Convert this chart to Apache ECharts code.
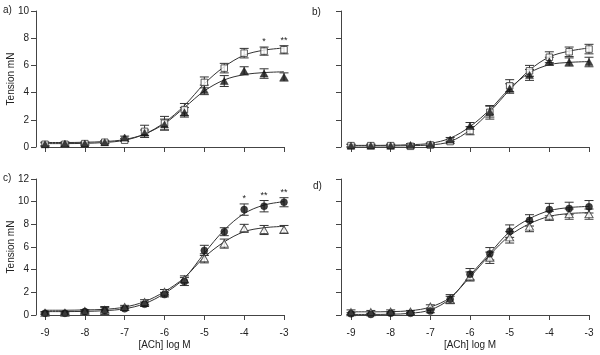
<!DOCTYPE html>
<html>
<head>
<meta charset="utf-8">
<script src="https://cdn.jsdelivr.net/npm/echarts@6/dist/echarts.min.js"></script>
<style>
  html, body { margin: 0; padding: 0; background: #fff; }
  #chart { width: 600px; height: 355px; }
</style>
</head>
<body>
<div id="chart"></div>
<script>
// log [ACh] doses, shared by every panel
const doses = [-9, -8.5, -8, -7.5, -7, -6.5, -6, -5.5, -5, -4.5, -4, -3.5, -3];
const xTicks = [-9, -8, -7, -6, -5, -4, -3];

// panel a
const aSquare = [0.2, 0.2, 0.25, 0.35, 0.5, 1.15, 1.75, 2.75, 4.75, 5.8, 6.9, 7.05, 7.15];
const aSquareSem = [0.15, 0.15, 0.1, 0.1, 0.1, 0.45, 0.5, 0.45, 0.4, 0.35, 0.35, 0.3, 0.3];
const aTri = [0.2, 0.25, 0.25, 0.35, 0.7, 1.05, 1.65, 2.55, 4.2, 4.85, 5.6, 5.4, 5.15];
const aTriSem = [0.1, 0.1, 0.1, 0.1, 0.1, 0.2, 0.4, 0.35, 0.35, 0.4, 0.3, 0.35, 0.3];
const aSquareFit = [0.25, 0.25, 0.27, 0.33, 0.5, 0.95, 1.8, 3.05, 4.65, 5.9, 6.75, 7.12, 7.28];
const aTriFit = [0.33, 0.33, 0.35, 0.4, 0.55, 0.95, 1.72, 2.9, 4.12, 4.93, 5.32, 5.47, 5.53];
const aStars = [[-3.5, "*"], [-3, "**"]];

// panel b
const bSquare = [0.1, 0.1, 0.1, 0.05, 0.15, 0.4, 1.2, 2.55, 4.5, 5.6, 6.6, 7.0, 7.2];
const bSquareSem = [0.1, 0.1, 0.1, 0.05, 0.1, 0.15, 0.3, 0.5, 0.45, 0.4, 0.4, 0.35, 0.35];
const bTri = [0.1, 0.1, 0.1, 0.15, 0.2, 0.55, 1.55, 2.6, 4.3, 5.3, 6.3, 6.25, 6.25];
const bTriSem = [0.1, 0.1, 0.1, 0.1, 0.1, 0.15, 0.25, 0.4, 0.35, 0.4, 0.3, 0.3, 0.35];
const bSquareFit = [0.08, 0.08, 0.08, 0.1, 0.15, 0.4, 1.25, 2.6, 4.2, 5.65, 6.62, 7.05, 7.28];
const bTriFit = [0.12, 0.12, 0.13, 0.17, 0.27, 0.65, 1.5, 2.75, 4.3, 5.45, 6.05, 6.22, 6.28];

// panel c
const cCircle = [0.15, 0.15, 0.3, 0.4, 0.55, 0.95, 1.8, 2.95, 5.7, 7.35, 9.3, 9.6, 9.95];
const cCircleSem = [0.1, 0.1, 0.15, 0.35, 0.15, 0.2, 0.2, 0.35, 0.45, 0.35, 0.5, 0.5, 0.4];
const cTri = [0.2, 0.2, 0.35, 0.45, 0.7, 1.15, 2.05, 3.15, 5.0, 6.3, 7.65, 7.5, 7.55];
const cTriSem = [0.1, 0.1, 0.1, 0.2, 0.15, 0.2, 0.2, 0.3, 0.4, 0.4, 0.35, 0.4, 0.35];
const cCircleFit = [0.3, 0.3, 0.32, 0.38, 0.55, 1.0, 1.9, 3.25, 5.45, 7.5, 8.95, 9.7, 10.0];
const cTriFit = [0.42, 0.42, 0.45, 0.5, 0.7, 1.18, 2.06, 3.3, 5.1, 6.45, 7.35, 7.7, 7.82];
const cStars = [[-4, "*"], [-3.5, "**"], [-3, "**"]];

// panel d
const dCircle = [0.1, 0.05, 0.15, 0.15, 0.35, 1.4, 3.6, 5.4, 7.4, 8.35, 9.3, 9.4, 9.55];
const dCircleSem = [0.1, 0.1, 0.1, 0.1, 0.15, 0.4, 0.5, 0.55, 0.55, 0.5, 0.55, 0.55, 0.55];
const dTri = [0.25, 0.25, 0.3, 0.3, 0.75, 1.35, 3.4, 5.05, 6.85, 7.8, 8.75, 8.9, 8.9];
const dTriSem = [0.2, 0.15, 0.15, 0.1, 0.15, 0.3, 0.4, 0.5, 0.5, 0.45, 0.4, 0.45, 0.45];
const dCircleFit = [0.05, 0.05, 0.07, 0.15, 0.45, 1.45, 3.5, 5.45, 7.35, 8.5, 9.2, 9.48, 9.58];
const dTriFit = [0.28, 0.28, 0.3, 0.38, 0.7, 1.55, 3.35, 5.3, 7.0, 8.05, 8.7, 8.95, 9.03];

const INK = "#222";
const AXIS = "#444";
const FONT = "Liberation Sans, Arial, sans-serif";

const pair = (ys) => doses.map((x, i) => [x, ys[i]]);

function fitLine(idx, ys) {
  return {
    type: "line", xAxisIndex: idx, yAxisIndex: idx, data: pair(ys),
    smooth: 0.35, showSymbol: false, silent: true, z: 2,
    lineStyle: { color: "#333", width: 1 },
  };
}

function errBars(idx, ys, sem) {
  return {
    type: "custom", xAxisIndex: idx, yAxisIndex: idx, z: 3, silent: true,
    data: doses.map((x, i) => [x, ys[i] - sem[i], ys[i] + sem[i]]),
    renderItem(params, api) {
      const lo = api.coord([api.value(0), api.value(1)]);
      const hi = api.coord([api.value(0), api.value(2)]);
      const w = 4.5;
      const st = { stroke: "#333", lineWidth: 1 };
      return {
        type: "group",
        children: [
          { type: "line", shape: { x1: lo[0], y1: lo[1], x2: hi[0], y2: hi[1] }, style: st },
          { type: "line", shape: { x1: hi[0] - w, y1: hi[1], x2: hi[0] + w, y2: hi[1] }, style: st },
          { type: "line", shape: { x1: lo[0] - w, y1: lo[1], x2: lo[0] + w, y2: lo[1] }, style: st },
        ],
      };
    },
  };
}

function marks(idx, ys, symbol, open) {
  return {
    type: "scatter", xAxisIndex: idx, yAxisIndex: idx, data: pair(ys), z: 4,
    symbol, symbolSize: symbol === "triangle" ? [8, 7] : symbol === "rect" ? 6.5 : 7, silent: true,
    itemStyle: open
      ? { color: "#fff", borderColor: "#333", borderWidth: 1 }
      : { color: "#111", borderColor: "#111", borderWidth: 0.5 },
  };
}

function stars(idx, ys, sem, list) {
  return {
    type: "custom", xAxisIndex: idx, yAxisIndex: idx, z: 5, silent: true,
    data: list.map(([x, t]) => {
      const i = doses.indexOf(x);
      return [x, ys[i] + sem[i], t];
    }),
    renderItem(params, api) {
      const p = api.coord([api.value(0), api.value(1)]);
      return {
        type: "text", x: p[0], y: p[1] - 1,
        style: { text: api.value(2), fill: INK, font: "9px " + FONT, align: "center", verticalAlign: "bottom" },
      };
    },
  };
}

const grids = [
  { left: 45, right: 316, top: 11, bottom: 208 },
  { left: 351, right: 11, top: 11, bottom: 208 },
  { left: 45, right: 316, top: 179, bottom: 40 },
  { left: 351, right: 11, top: 179, bottom: 40 },
];

const xAxis = grids.map((g, i) => ({
  type: "value", gridIndex: i, min: -9, max: -3, interval: 1, offset: i < 2 ? 8 : 7,
  axisLine: { lineStyle: { color: AXIS, width: 1 } },
  axisTick: { length: 5, lineStyle: { color: AXIS } },
  splitLine: { show: false },
  axisLabel: { show: i >= 2, color: INK, fontSize: 10, fontFamily: FONT, margin: 6,
    formatter: (v) => (xTicks.includes(v) ? String(v) : "") },
  name: i >= 2 ? "[ACh] log M" : "", nameLocation: "middle", nameGap: 18, nameMoveOverlap: false,
  nameTextStyle: { color: INK, fontSize: 10, fontFamily: FONT },
}));

const yAxis = grids.map((g, i) => ({
  type: "value", gridIndex: i, min: 0, max: i < 2 ? 10 : 12, interval: 2,
  offset: i % 2 === 0 ? 9 : 10,
  axisLine: { show: true, lineStyle: { color: AXIS, width: 1 } },
  axisTick: { show: true, length: 5, lineStyle: { color: AXIS } },
  splitLine: { show: false },
  axisLabel: { show: i % 2 === 0, color: INK, fontSize: 10, fontFamily: FONT, margin: 7 },
  name: i % 2 === 0 ? "Tension mN" : "", nameLocation: "middle", nameGap: 20, nameMoveOverlap: false,
  nameTextStyle: { color: INK, fontSize: 10, fontFamily: FONT },
}));

const panelLabels = [["a)", 3, 11], ["b)", 312, 13], ["c)", 3, 179], ["d)", 313, 187]];

const option = {
  animation: false,
  backgroundColor: "#fff",
  grid: grids,
  xAxis,
  yAxis,
  graphic: panelLabels.map(([t, x, y]) => ({
    type: "text", left: x, top: y - 6,
    style: { text: t, fill: INK, font: "10px " + FONT },
  })),
  series: [
    fitLine(0, aSquareFit), fitLine(0, aTriFit),
    errBars(0, aSquare, aSquareSem), errBars(0, aTri, aTriSem),
    marks(0, aSquare, "rect", true), marks(0, aTri, "triangle", false),
    stars(0, aSquare, aSquareSem, aStars),

    fitLine(1, bSquareFit), fitLine(1, bTriFit),
    errBars(1, bSquare, bSquareSem), errBars(1, bTri, bTriSem),
    marks(1, bSquare, "rect", true), marks(1, bTri, "triangle", false),

    fitLine(2, cCircleFit), fitLine(2, cTriFit),
    errBars(2, cCircle, cCircleSem), errBars(2, cTri, cTriSem),
    marks(2, cTri, "triangle", true), marks(2, cCircle, "circle", false),
    stars(2, cCircle, cCircleSem, cStars),

    fitLine(3, dCircleFit), fitLine(3, dTriFit),
    errBars(3, dCircle, dCircleSem), errBars(3, dTri, dTriSem),
    marks(3, dTri, "triangle", true), marks(3, dCircle, "circle", false),
  ],
};

const chart = echarts.init(document.getElementById("chart"), null, { renderer: "canvas" });
chart.setOption(option);
</script>
</body>
</html>
